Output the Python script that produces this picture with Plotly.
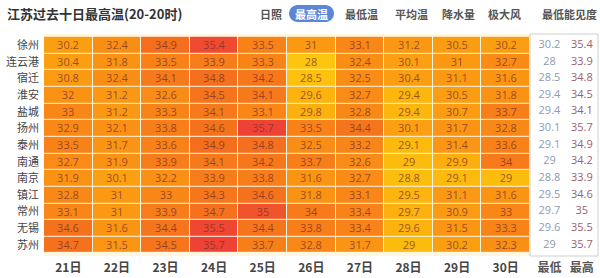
import plotly.graph_objects as go

cities = ["徐州", "连云港", "宿迁", "淮安", "盐城", "扬州", "泰州", "南通", "南京", "镇江", "常州", "无锡", "苏州"]
days = ["21日", "22日", "23日", "24日", "25日", "26日", "27日", "28日", "29日", "30日"]
temps = [
    [30.2, 32.4, 34.9, 35.4, 33.5, 31, 33.1, 31.2, 30.5, 30.2],
    [30.4, 31.8, 33.5, 33.9, 33.3, 28, 32.4, 30.1, 31, 32.7],
    [30.8, 32.4, 34.1, 34.8, 34.2, 28.5, 32.5, 30.4, 31.1, 31.6],
    [32, 31.2, 32.6, 34.5, 34.1, 29.6, 32.7, 29.4, 30.5, 31.8],
    [33, 31.2, 33.3, 34.1, 33.1, 29.8, 32.8, 29.4, 30.7, 33.7],
    [32.9, 32.1, 33.8, 34.6, 35.7, 33.5, 34.4, 30.1, 31.7, 32.8],
    [33.5, 31.7, 33.6, 34.9, 34.8, 32.5, 33.2, 29.1, 31.4, 33.6],
    [32.7, 31.9, 33.9, 34.1, 34.2, 33.7, 32.6, 29, 29.9, 34],
    [31.9, 30.1, 32.2, 33.9, 33.8, 31.6, 32.7, 28.8, 29.1, 29],
    [32.8, 31, 33, 34.3, 34.6, 31.8, 33.1, 29.5, 31.1, 31.6],
    [33.1, 31, 33.9, 34.7, 35, 34, 33.4, 29.7, 30.9, 33],
    [34.6, 31.6, 34.4, 35.5, 34.4, 33.8, 33.4, 29.6, 31.5, 33.3],
    [34.7, 31.5, 34.5, 35.7, 33.7, 32.8, 31.7, 29, 30.2, 32.3],
]
min_vals = [30.2, 28, 28.5, 29.4, 29.4, 30.1, 29.1, 29, 28.8, 29.5, 29.7, 29.6, 29]
max_vals = [35.4, 33.9, 34.8, 34.5, 34.1, 35.7, 34.9, 34.2, 33.9, 34.6, 35, 35.5, 35.7]
summary_labels = ["最低", "最高"]
tabs = ["日照", "最高温", "最低温", "平均温", "降水量", "极大风", "最低能见度"]
title = "江苏过去十日最高温(20-20时)"

W, H = 600, 278
L, R, T, B = 44, 2, 34, 22
PW, PH = W - L - R, H - T - B
HEAT_RIGHT = 530


def px(x):
    return (x - L) / PW


def py(y):
    return (H - B - y) / PH


def fmt(v):
    return ("%g" % v)


zmin, zmax = 28.0, 35.7


def n(v):
    return (v - zmin) / (zmax - zmin)


colorscale = [
    [0.0, "#fdc50e"],
    [n(29.0), "#fcbc0e"],
    [n(29.9), "#fcae0e"],
    [n(30.1), "#fba012"],
    [n(32.0), "#fa9214"],
    [n(33.5), "#f88218"],
    [n(34.9), "#f46e1e"],
    [n(35.0), "#f1542c"],
    [1.0, "#ef4236"],
]

font_cn = "Noto Sans CJK SC"

fig = go.Figure()
fig.add_trace(go.Heatmap(
    z=temps, x=days, y=cities,
    text=[[fmt(v) for v in row] for row in temps],
    texttemplate="%{text}",
    textfont=dict(family="Open Sans, " + font_cn, size=11, color="rgba(120,50,40,0.75)"),
    colorscale=colorscale, zmin=zmin, zmax=zmax, showscale=False,
    xgap=1, ygap=1, hoverinfo="skip",
    xaxis="x", yaxis="y",
))
fig.add_trace(go.Scatter(
    x=[summary_labels[0]] * len(cities), y=cities, mode="text",
    text=[fmt(v) for v in min_vals],
    textfont=dict(family="Open Sans", size=11, color="#8b9bb2"),
    xaxis="x2", yaxis="y", hoverinfo="skip", showlegend=False,
))
fig.add_trace(go.Scatter(
    x=[summary_labels[1]] * len(cities), y=cities, mode="text",
    text=[fmt(v) for v in max_vals],
    textfont=dict(family="Open Sans", size=11, color="#9a6072"),
    xaxis="x2", yaxis="y", hoverinfo="skip", showlegend=False,
))

split = px(HEAT_RIGHT)
fig.update_layout(
    width=W, height=H, margin=dict(l=L, r=R, t=T, b=B, autoexpand=False),
    paper_bgcolor="white", plot_bgcolor="#fdf6e0",
    font=dict(family=font_cn, color="#444"),
    xaxis=dict(domain=[0, split], type="category", showgrid=False, zeroline=False,
               tickmode="array", tickvals=days, ticktext=["<b>%s</b>" % d for d in days],
               tickfont=dict(size=12, color="#444", family=font_cn), ticks="", fixedrange=True,
               ticklabelstandoff=3),
    xaxis2=dict(domain=[split, 1], type="category", anchor="y", showgrid=False, zeroline=False,
                categoryorder="array", categoryarray=summary_labels,
                tickmode="array", tickvals=summary_labels,
                ticktext=["<b>%s</b>" % s for s in summary_labels],
                tickfont=dict(size=12, color="#555", family=font_cn), ticks="", range=[-0.6, 1.5],
                ticklabelstandoff=3),
    yaxis=dict(type="category", autorange="reversed", showgrid=False, zeroline=False,
               tickfont=dict(size=11, color="#444", family=font_cn), ticks="", ticklabelstandoff=4),
)

# white box for summary columns
fig.add_shape(type="rect", xref="paper", yref="paper",
              x0=split, x1=1, y0=0, y1=1,
              line=dict(color="#cfcfcf", width=1), fillcolor="white", layer="below")

# title
fig.add_annotation(text="<b>%s</b>" % title, xref="paper", yref="paper",
                   x=px(5), y=py(13), xanchor="left", yanchor="middle", showarrow=False,
                   font=dict(size=13, color="#333", family=font_cn))

# tabs
tab_centers = [271, 311, 361, 411, 458, 505, 569]
pill_x0, pill_x1, pill_y0, pill_y1 = 289, 334, 5, 22
r = (pill_y1 - pill_y0) / 2
k = 0.5523 * r
path = (
    f"M {px(pill_x0 + r)} {py(pill_y0)} L {px(pill_x1 - r)} {py(pill_y0)} "
    f"C {px(pill_x1 - r + k)} {py(pill_y0)} {px(pill_x1)} {py(pill_y0 + r - k)} {px(pill_x1)} {py(pill_y0 + r)} "
    f"C {px(pill_x1)} {py(pill_y0 + r + k)} {px(pill_x1 - r + k)} {py(pill_y1)} {px(pill_x1 - r)} {py(pill_y1)} "
    f"L {px(pill_x0 + r)} {py(pill_y1)} "
    f"C {px(pill_x0 + r - k)} {py(pill_y1)} {px(pill_x0)} {py(pill_y1 - r + k)} {px(pill_x0)} {py(pill_y1 - r)} "
    f"C {px(pill_x0)} {py(pill_y0 + r - k)} {px(pill_x0 + r - k)} {py(pill_y0)} {px(pill_x0 + r)} {py(pill_y0)} Z"
)
fig.add_shape(type="path", xref="paper", yref="paper", path=path,
              fillcolor="#5c87d8", line=dict(width=0), layer="above")
for name, cx in zip(tabs, tab_centers):
    sel = name == "最高温"
    fig.add_annotation(text="<b>%s</b>" % name, xref="paper", yref="paper",
                       x=px(cx), y=py(14), xanchor="center", yanchor="middle", showarrow=False,
                       font=dict(size=11, color="white" if sel else "#555", family=font_cn))

fig.write_html("out.html")
